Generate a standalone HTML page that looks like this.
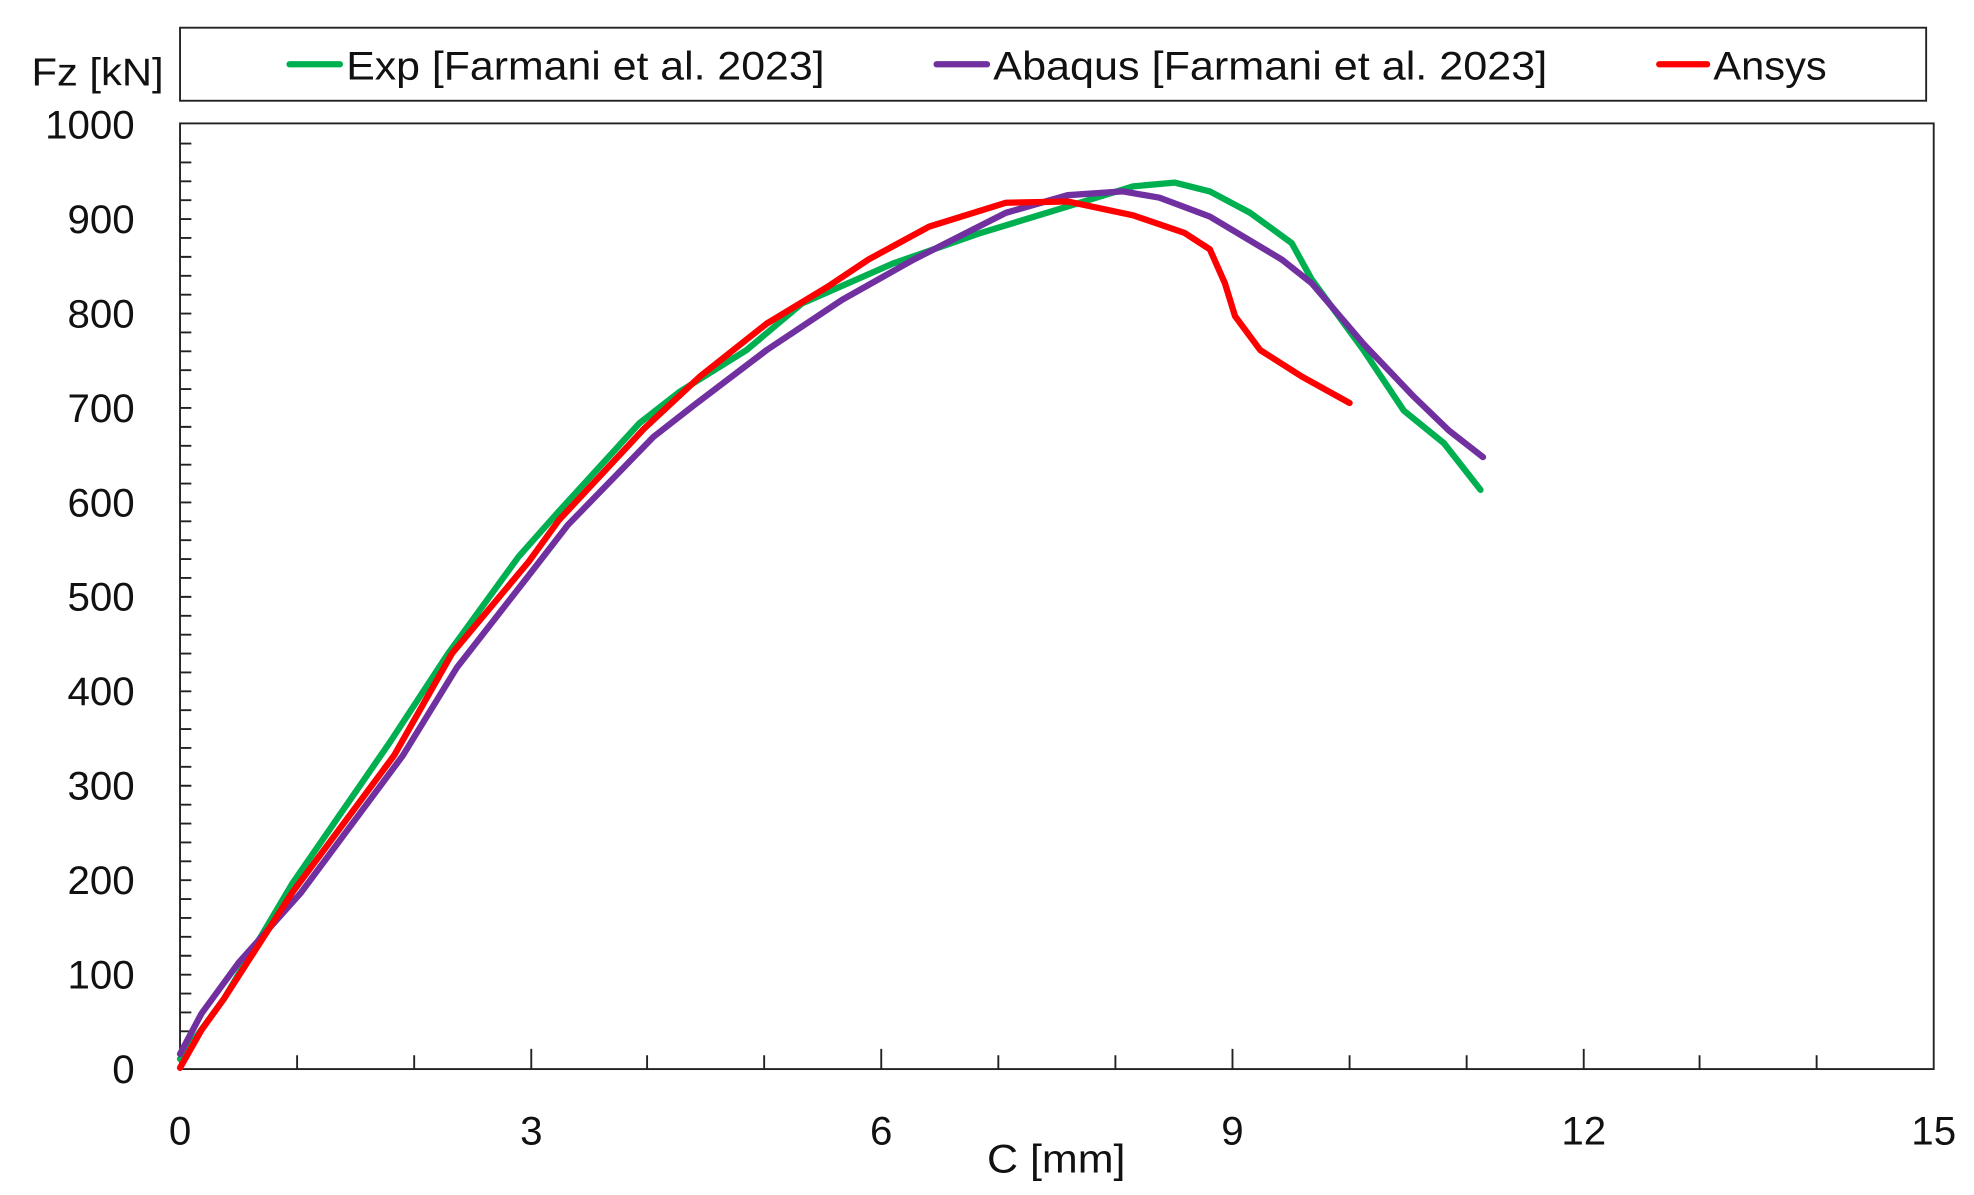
<!DOCTYPE html>
<html><head><meta charset="utf-8"><style>html,body{margin:0;padding:0;background:#fff}svg{display:block}</style></head><body>
<svg width="1974" height="1195" viewBox="0 0 1568 949" preserveAspectRatio="none" xmlns="http://www.w3.org/2000/svg" font-family="Liberation Sans, sans-serif">
<rect x="0" y="0" width="1568" height="949" fill="#fff"/>
<rect x="143" y="22" width="1387" height="58" fill="none" stroke="#222" stroke-width="1.5"/>
<text x="25" y="68" font-size="31" fill="#111" textLength="105" lengthAdjust="spacingAndGlyphs">Fz [kN]</text>
<line x1="230" y1="51" x2="270" y2="51" stroke="#00b050" stroke-width="5" stroke-linecap="round"/>
<text x="275" y="63" font-size="32" fill="#111" textLength="380" lengthAdjust="spacingAndGlyphs">Exp [Farmani et al. 2023]</text>
<line x1="744" y1="51" x2="784" y2="51" stroke="#7030a0" stroke-width="5" stroke-linecap="round"/>
<text x="789" y="63" font-size="32" fill="#111" textLength="440" lengthAdjust="spacingAndGlyphs">Abaqus [Farmani et al. 2023]</text>
<line x1="1318" y1="51" x2="1356" y2="51" stroke="#ff0000" stroke-width="5" stroke-linecap="round"/>
<text x="1361" y="63" font-size="32" fill="#111" textLength="90" lengthAdjust="spacingAndGlyphs">Ansys</text>
<rect x="143" y="98" width="1393" height="751" fill="none" stroke="#222" stroke-width="1.5"/>
<g stroke="#222" stroke-width="1.5">
<path d="M143 834h9M143 819h9M143 804h9M143 789h9M143 774h9M143 759h9M143 744h9M143 729h9M143 714h9M143 699h9M143 684h9M143 669h9M143 654h9M143 639h9M143 624h9M143 609h9M143 594h9M143 579h9M143 564h9M143 549h9M143 534h9M143 519h9M143 504h9M143 489h9M143 474h9M143 459h9M143 444h9M143 429h9M143 414h9M143 399h9M143 384h9M143 369h9M143 354h9M143 339h9M143 324h9M143 309h9M143 294h9M143 279h9M143 264h9M143 249h9M143 234h9M143 219h9M143 204h9M143 189h9M143 174h9M143 159h9M143 144h9M143 129h9M143 114h9"/>
<path d="M236 849v-11M329 849v-11M422 849v-16M514 849v-11M607 849v-11M700 849v-16M793 849v-11M886 849v-11M979 849v-16M1072 849v-11M1165 849v-11M1258 849v-16M1350 849v-11M1443 849v-11"/>
</g>
<g font-size="32" fill="#111" text-anchor="end">
<text x="107" y="860">0</text><text x="107" y="785">100</text><text x="107" y="710">200</text><text x="107" y="635">300</text><text x="107" y="560">400</text><text x="107" y="485">500</text><text x="107" y="410">600</text><text x="107" y="335">700</text><text x="107" y="260">800</text><text x="107" y="185">900</text><text x="107" y="110">1000</text>
</g>
<g font-size="32" fill="#111" text-anchor="middle">
<text x="143" y="909">0</text><text x="422" y="909">3</text><text x="700" y="909">6</text><text x="979" y="909">9</text><text x="1258" y="909">12</text><text x="1536" y="909">15</text>
<text x="839" y="931" textLength="110" lengthAdjust="spacingAndGlyphs">C [mm]</text>
</g>
<g fill="none" stroke-width="5" stroke-linejoin="round" stroke-linecap="round">
<polyline stroke="#00b050" points="143,841 178,793 232,702 310,589 356,519 412,442 444,406 508,336 540,311 593,278 637,241 710,209 779,185 848,164 900,148 933,145 961,152 993,169 1026,193 1042,222 1083,278 1115,326 1147,352 1176,389"/>
<polyline stroke="#7030a0" points="143,837 160,805 190,764 239,709 320,600 363,530 420,457 451,417 519,347 551,322 609,278 669,238 726,206 799,169 848,155 892,152 921,157 961,172 1018,206 1042,225 1083,273 1123,315 1151,342 1178,363"/>
<polyline stroke="#ff0000" points="143,848 160,818 178,793 232,709 313,600 359,519 420,446 444,413 512,340 556,299 609,257 657,228 690,206 738,180 799,161 848,160 900,171 941,185 961,198 973,225 981,251 1001,278 1034,299 1072,320"/>
</g>
</svg>
</body></html>
